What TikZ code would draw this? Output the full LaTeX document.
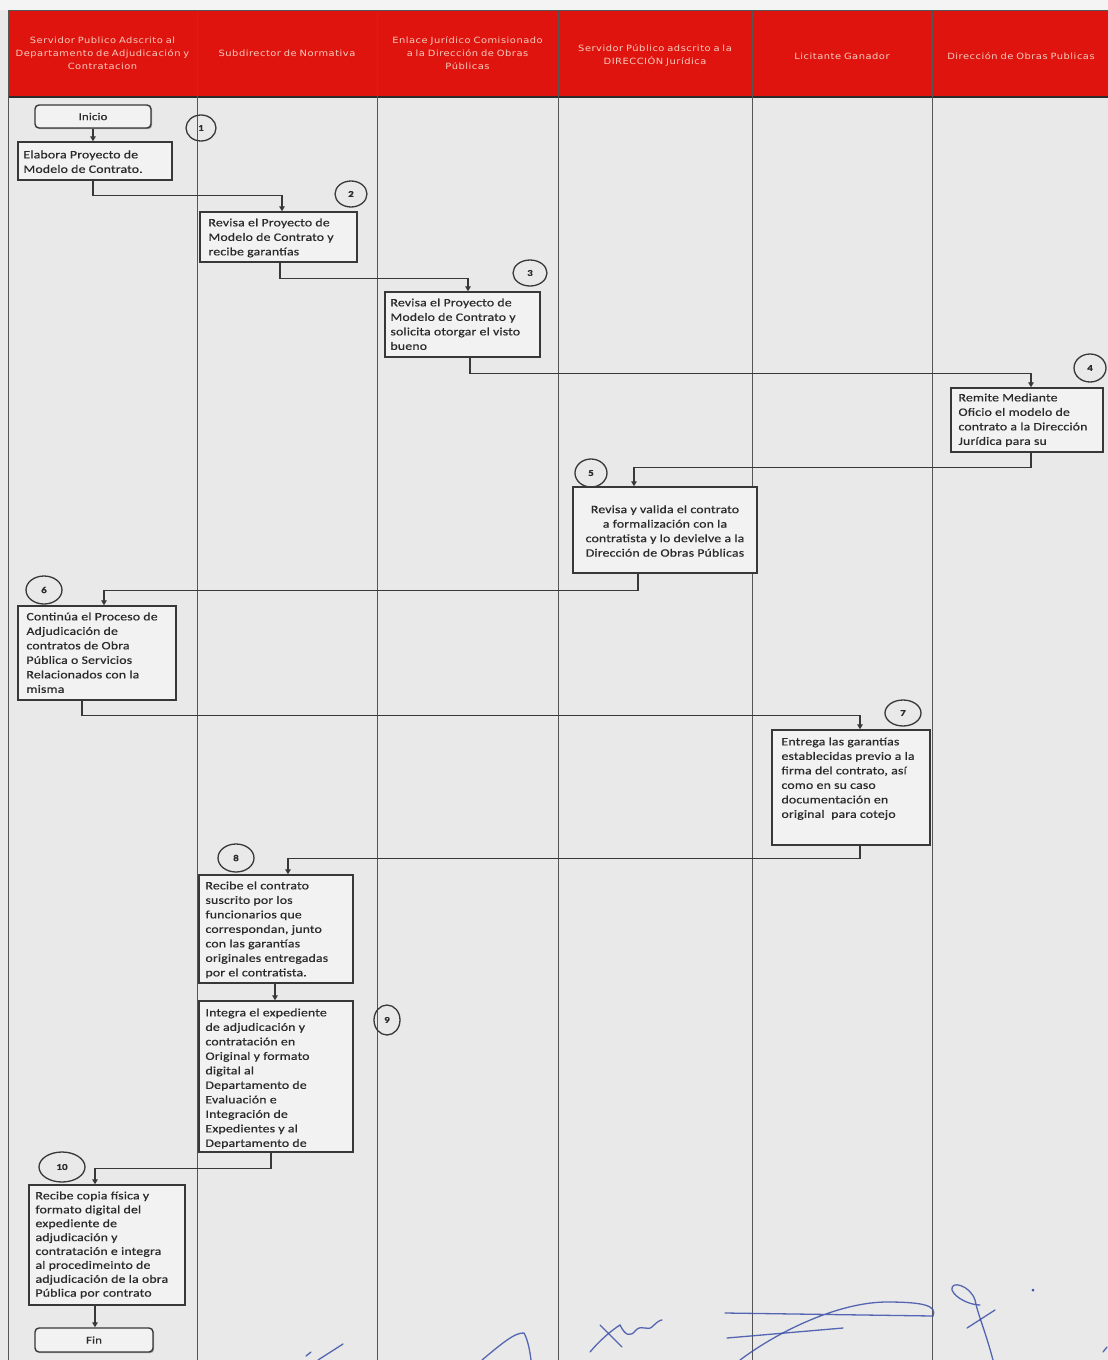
\documentclass[tikz,border=0pt]{standalone}
\usepackage{fontspec}
\setmainfont{Carlito}
\newfontfamily\hdrfont[LetterSpace=6,FakeStretch=1.15]{DejaVu Sans}
\newfontfamily\boxfont[FakeStretch=1.22,FakeBold=0.6,LetterSpace=1.5]{Carlito}
\usetikzlibrary{arrows.meta,shapes.geometric,shadows}
\definecolor{bg}{HTML}{E9E9E9}
\definecolor{hdr}{HTML}{DF140F}
\definecolor{hdrtxt}{HTML}{F6CDBE}
\definecolor{ink}{HTML}{2B2B2B}
\definecolor{edge}{HTML}{383838}
\definecolor{sig}{HTML}{3A4FA8}
\tikzset{
  lane/.style={draw=ink!80, line width=0.8pt},
  hcell/.style={font=\hdrfont\fontsize{8.6}{13}\selectfont, text=hdrtxt, align=center, inner sep=0pt},
  stepbox/.style={draw=edge, line width=1.4pt, fill=bg!60!white, inner sep=0pt,
     drop shadow={shadow xshift=1.2pt, shadow yshift=-1.2pt, fill=black!55, opacity=0.6}},
  term/.style={draw=edge, line width=1.4pt, rounded corners=4pt, fill=bg!60!white, inner sep=0pt,
     font=\boxfont\fontsize{10.5}{11}\selectfont, text=ink,
     drop shadow={shadow xshift=1.2pt, shadow yshift=-1.2pt, fill=black!55, opacity=0.6}},
  txt/.style={font=\boxfont\fontsize{11.3}{14.5}\selectfont, text=ink, align=left, anchor=north west, inner sep=0pt},
  num/.style={draw=edge, ellipse, line width=1.3pt, inner sep=0pt, font=\boxfont\fontsize{9}{9}\selectfont\bfseries, text=ink},
  arr/.style={draw=edge, line width=1.5pt, -{Triangle[length=5pt,width=5.5pt]}},
  sigline/.style={draw=sig, line width=1.3pt, line cap=round, opacity=0.85}
}
\begin{document}
\begin{tikzpicture}[x=1pt,y=-1pt]
\useasboundingbox (0,0) rectangle (1108,1360);
\fill[bg] (0,0) rectangle (1108,1360);
\fill[bg!50!white] (0,0) rectangle (1108,10);
% header
\fill[hdr] (8,10) rectangle (1108,97);
\draw[ink!80, line width=1pt] (8,10) -- (1108,10);
\draw[ink, line width=1.6pt] (8,97) -- (1108,97);
% lanes
\foreach \xx in {8,197,377,558,752,932} {\draw[lane] (\xx,10) -- (\xx,1360);}
\node[hcell, text width=186pt] (h1) at (102.5,53) {Servidor Publico Adscrito al\\Departamento de Adjudicación y\\Contratacion};
\node[hcell, text width=176pt] (h2) at (287,53) {Subdirector de Normativa};
\node[hcell, text width=178pt] (h3) at (467.5,53) {Enlace Jurídico Comisionado\\a la Dirección de Obras\\Públicas};
\node[hcell, text width=190pt] (h4) at (655,55) {Servidor Público adscrito a la\\DIRECCIÓN Jurídica};
\node[hcell, text width=176pt] (h5) at (842,56) {Licitante Ganador};
\node[hcell, text width=176pt] (h6) at (1021,56) {Dirección de Obras Publicas};

% terminals and boxes
\node[term, minimum width=116pt, minimum height=23pt] (ini) at (93,116.5) {Inicio};
\node[stepbox, minimum width=154pt, minimum height=38pt] (b1) at (95,161) {};
\node[stepbox, minimum width=157pt, minimum height=50pt] (b2) at (278.5,237) {};
\node[stepbox, minimum width=155pt, minimum height=65pt] (b3) at (462.5,324.5) {};
\node[stepbox, minimum width=152pt, minimum height=64pt] (b4) at (1027,420) {};
\node[stepbox, minimum width=184pt, minimum height=86pt] (b5) at (665,530) {};
\node[stepbox, minimum width=158pt, minimum height=94pt] (b6) at (97,653) {};
\node[stepbox, minimum width=158pt, minimum height=115pt] (b7) at (851,787.5) {};
\node[stepbox, minimum width=154pt, minimum height=108pt] (b8) at (276,929) {};
\node[stepbox, minimum width=154pt, minimum height=151pt] (b9) at (276,1076.5) {};
\node[stepbox, minimum width=156pt, minimum height=120pt] (b10) at (107,1245) {};
\node[term, minimum width=118pt, minimum height=24pt] (fin) at (94,1340) {Fin};

% texts
\node[txt] (t1) at ([xshift=6pt,yshift=-9pt]b1.north west) {Elabora Proyecto de\\Modelo de Contrato.};
\node[txt] (t2) at ([xshift=9pt,yshift=-7pt]b2.north west) {Revisa el Proyecto de\\Modelo de Contrato y\\recibe garantías};
\node[txt] (t3) at ([xshift=6pt,yshift=-7pt]b3.north west) {Revisa el Proyecto de\\Modelo de Contrato y\\solicita otorgar el visto\\bueno};
\node[txt] (t4) at ([xshift=8pt,yshift=-6pt]b4.north west) {Remite Mediante\\Oficio el modelo de\\contrato a la Dirección\\Jurídica para su};
\node[txt, align=center, anchor=center] (t5) at ([yshift=-1pt]b5.center) {Revisa y valida el contrato\\a formalización con la\\contratista y lo devielve a la\\Dirección de Obras Públicas};
\node[txt] (t6) at ([xshift=9pt,yshift=-7pt]b6.north west) {Continúa el Proceso de\\Adjudicación de\\contratos de Obra\\Pública o Servicios\\Relacionados con la\\misma};
\node[txt] (t7) at ([xshift=10pt,yshift=-8pt]b7.north west) {Entrega las garantías\\establecidas previo a la\\firma del contrato, así\\como en su caso\\documentación en\\original~ para cotejo};
\node[txt] (t8) at ([xshift=7pt,yshift=-7pt]b8.north west) {Recibe el contrato\\suscrito por los\\funcionarios que\\correspondan, junto\\con las garantías\\originales entregadas\\por el contratista.};
\node[txt] (t9) at ([xshift=7pt,yshift=-8pt]b9.north west) {Integra el expediente\\de adjudicación y\\contratación en\\Original y formato\\digital al\\Departamento de\\Evaluación e\\Integración de\\Expedientes y al\\Departamento de};
\node[txt, font=\boxfont\fontsize{11.3}{13.9}\selectfont] (t10) at ([xshift=7pt,yshift=-7pt]b10.north west) {Recibe copia física y\\formato digital del\\expediente de\\adjudicación y\\contratación e integra\\al procedimeinto de\\adjudicación de la obra\\Pública por contrato};

% step numbers
\node[num, minimum width=30pt, minimum height=26pt] (c1) at (201,128) {1};
\node[num, minimum width=32pt, minimum height=26pt] (c2) at (351,194) {2};
\node[num, minimum width=34pt, minimum height=26pt] (c3) at (530,273) {3};
\node[num, minimum width=32pt, minimum height=28pt] (c4) at (1090,368) {4};
\node[num, minimum width=32pt, minimum height=28pt] (c5) at (591,473) {5};
\node[num, minimum width=36pt, minimum height=28pt] (c6) at (44,590) {6};
\node[num, minimum width=36pt, minimum height=26pt] (c7) at (903,713) {7};
\node[num, minimum width=36pt, minimum height=28pt] (c8) at (236,858) {8};
\node[num, minimum width=26pt, minimum height=30pt] (c9) at (387,1020) {9};
\node[num, minimum width=46pt, minimum height=30pt] (c10) at (62,1167) {10};

% connectors
\draw[arr] (ini.south) -- (ini.south |- b1.north);
\draw[arr] ([xshift=-2pt]b1.south) -- ++(0,15) -| ([xshift=3.5pt]b2.north);
\draw[arr] ([xshift=1.5pt]b2.south) -- ++(0,16) -| ([xshift=5.5pt]b3.north);
\draw[arr] ([xshift=7.5pt]b3.south) -- ++(0,16) -| ([xshift=4pt]b4.north);
\draw[arr] ([xshift=4pt]b4.south) -- ++(0,15) -| ([xshift=-31pt]b5.north);
\draw[arr] ([xshift=-27pt]b5.south) -- ++(0,17) -| ([xshift=7pt]b6.north);
\draw[arr] ([xshift=-15pt]b6.south) -- ++(0,15) -| ([xshift=9pt]b7.north);
\draw[arr] ([xshift=9pt]b7.south) -- ++(0,13) -| ([xshift=12pt]b8.north);
\draw[arr] ([xshift=-1pt]b8.south) -- ([xshift=-1pt]b9.north);
\draw[arr] ([xshift=-5pt]b9.south) -- ++(0,16) -| ([xshift=-12pt]b10.north);
\draw[arr] ([xshift=-12pt]b10.south) -- ([xshift=-12pt]b10.south |- fin.north);

% signatures
\draw[sigline] (318,1360) -- (343,1344);
\draw[sigline] (306,1356) -- (311,1352);
\draw[sigline] (482,1360) .. controls (500,1345) and (515,1332) .. (524,1333) .. controls (528,1340) and (530,1352) .. (531,1360);
\draw[sigline] (590,1352) .. controls (600,1340) and (612,1330) .. (620,1325) .. controls (625,1335) and (630,1338) .. (636,1330) .. controls (642,1324) and (648,1332) .. (653,1326) .. controls (657,1322) and (660,1320) .. (662,1320);
\draw[sigline] (600,1325) -- (622,1347);
\draw[sigline] (725,1313) -- (933,1316) .. controls (937,1306) and (925,1302) .. (887,1302) .. controls (840,1302) and (780,1330) .. (740,1360);
\draw[sigline] (727,1338) -- (843,1328);
\draw[sigline] (993,1360) .. controls (985,1330) and (978,1315) .. (975,1300) .. controls (970,1285) and (950,1280) .. (952,1290) .. controls (955,1298) and (970,1305) .. (980,1305);
\draw[sigline] (967,1328) -- (995,1310);
\fill[sig] (1033,1290) circle (1.5pt);
\draw[sigline] (1103,1352) -- (1107,1347);
\end{tikzpicture}
\end{document}
